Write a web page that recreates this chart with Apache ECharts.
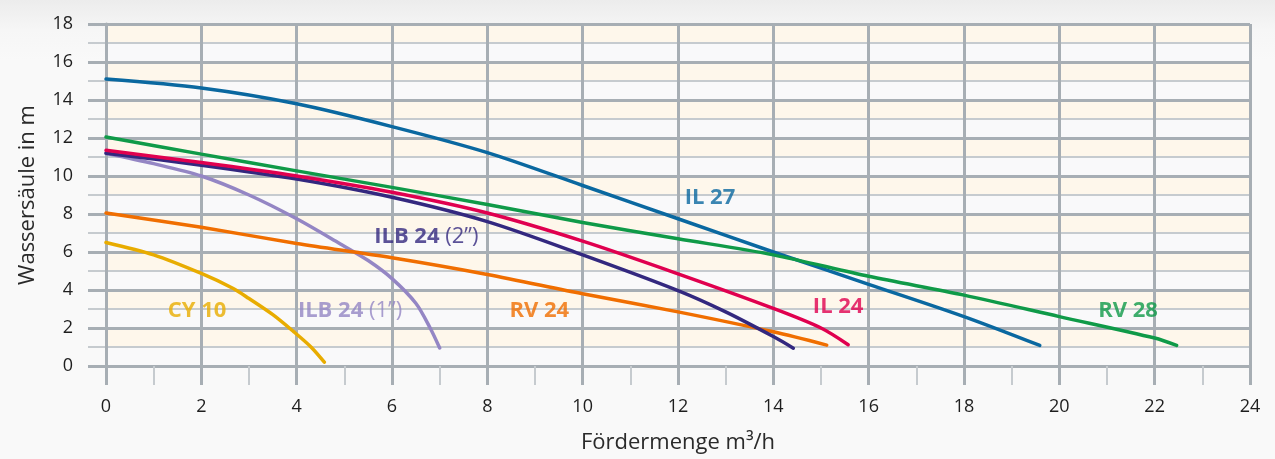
<!DOCTYPE html>
<html>
<head>
<meta charset="utf-8">
<script src="https://cdn.jsdelivr.net/npm/echarts@6/dist/echarts.min.js"></script>
<style>
html,body{margin:0;padding:0;}
body{background:linear-gradient(#ececec 0px,#f6f6f6 30px,#f9f9f9 60px,#f9f9f9 100%);}
#chart{width:1275px;height:459px;}
</style>
</head>
<body>
<div id="chart"></div>
<script>
// Pump curves: [Fördermenge m³/h, Wassersäule m]
const seriesNames = ['CY 10', 'ILB 24 (1″)', 'RV 24', 'ILB 24 (2″)', 'IL 24', 'IL 27', 'RV 28'];
const cy10 = [[0,6.5],[1,5.85],[2,4.87],[2.67,4.08],[3,3.55],[3.5,2.7],[3.93,1.82],[4.3,1.0],[4.58,0.2]];
const ilb24_1 = [[0,11.2],[1,10.65],[2,10.0],[3,9.0],[4,7.75],[4.9,6.45],[5.5,5.55],[6,4.6],[6.5,3.3],[6.8,2.0],[7,0.95]];
const rv24 = [[0,8.05],[2,7.3],[4,6.45],[6,5.7],[8,4.82],[10,3.8],[12,2.85],[14,1.8],[15.12,1.1]];
const ilb24_2 = [[0,11.2],[2,10.57],[4,9.84],[6,8.88],[8,7.6],[10,5.85],[12,3.97],[13,2.85],[14,1.55],[14.42,0.94]];
const il24 = [[0,11.35],[2,10.71],[4,10.0],[6,9.14],[8,8.05],[10,6.57],[12,4.85],[14,3.03],[15,2.0],[15.57,1.12]];
const il27 = [[0,15.1],[2,14.63],[4,13.8],[6,12.6],[8,11.23],[10,9.5],[12,7.75],[14,6.0],[16,4.3],[18,2.6],[19.59,1.08]];
const rv28 = [[0,12.05],[2,11.15],[4,10.27],[6,9.4],[8,8.5],[10,7.55],[12,6.7],[14,5.85],[16,4.72],[18,3.73],[20,2.6],[22,1.47],[22.46,1.08]];
const seriesColors = ['#e8ac00', '#9486c4', '#f06e00', '#33287f', '#e0004f', '#0a68a0', '#0f9a48'];
// Curve labels: [x, y, bold part, normal part]
const curveLabels = [
  [1.91, 2.93, 'CY 10', ''],
  [5.12, 2.93, 'ILB 24 ', '(1”)'],
  [9.09, 2.93, 'RV 24', ''],
  [6.72, 6.79, 'ILB 24 ', '(2”)'],
  [15.36, 3.12, 'IL 24', ''],
  [12.67, 8.88, 'IL 27', ''],
  [21.44, 2.93, 'RV 28', '']
];
const xMin = 0, xMax = 24, xStep = 2;
const yMin = 0, yMax = 18, yStep = 2;
const xAxisTitle = 'Fördermenge m³/h';
const yAxisTitle = 'Wassersäule in m';

const FONT = '"Open Sans", "Noto Sans", sans-serif';
const MAJOR = '#a7aeb4';
const MINOR = '#c6cbcf';
const curves = [cy10, ilb24_1, rv24, ilb24_2, il24, il27, rv28];

const lineSeries = curves.map((d, i) => ({
  name: seriesNames[i],
  type: 'line',
  data: d,
  smooth: 0.3,
  showSymbol: false,
  symbol: 'none',
  lineStyle: { color: seriesColors[i], width: 3.5, cap: 'round' },
  z: 5
}));

const labelSeries = curveLabels.map((l, i) => ({
  type: 'scatter',
  symbolSize: 0,
  silent: true,
  z: 6,
  data: [[l[0], l[1]]],
  label: {
    show: true,
    position: 'inside',
    formatter: () => '{b|' + l[2] + '}' + (l[3] ? '{n|' + l[3] + '}' : ''),
    rich: {
      b: { fontFamily: FONT, fontWeight: 'bold', fontSize: 22, color: seriesColors[i] },
      n: { fontFamily: FONT, fontWeight: 'normal', fontSize: 22, color: seriesColors[i] }
    }
  }
}));

const chart = echarts.init(document.getElementById('chart'), null, { renderer: 'canvas' });
chart.setOption({
  backgroundColor: 'transparent',
  animation: false,
  grid: { left: 106, right: 25, top: 24, bottom: 91 },
  xAxis: {
    type: 'value', min: xMin, max: xMax, interval: xStep, z: 2,
    name: xAxisTitle, nameLocation: 'middle', nameGap: 66,
    nameTextStyle: { fontFamily: FONT, fontSize: 22, color: '#2a2a2a' },
    axisLine: { show: true, onZero: false, lineStyle: { color: MAJOR, width: 3 } },
    axisTick: { show: true, length: 19, lineStyle: { color: MAJOR, width: 3 } },
    minorTick: { show: true, splitNumber: 2, length: 19, lineStyle: { color: MINOR, width: 2 } },
    axisLabel: { fontFamily: FONT, fontSize: 18, color: '#1e1e1e', margin: 32 },
    splitLine: { show: true, lineStyle: { color: MAJOR, width: 3 } }
  },
  yAxis: [
    {
      type: 'value', min: yMin, max: yMax, interval: 1, z: 0,
      name: yAxisTitle, nameLocation: 'middle', nameGap: 67,
      nameTextStyle: { fontFamily: FONT, fontSize: 22, color: '#2a2a2a' },
      axisLine: { show: false },
      axisTick: { show: true, length: 18, lineStyle: { color: MINOR, width: 2 } },
      axisLabel: {
        fontFamily: FONT, fontSize: 18, color: '#1e1e1e', margin: 33,
        formatter: v => (v % yStep === 0 ? String(v) : '')
      },
      splitLine: { show: true, lineStyle: { color: MINOR, width: 2 } },
      splitArea: { show: true, areaStyle: { color: ['#f9f9fa', '#fef7eb'] } }
    },
    {
      type: 'value', min: yMin, max: yMax, interval: yStep, z: 2, position: 'left',
      axisLine: { show: true, onZero: false, lineStyle: { color: MAJOR, width: 3 } },
      axisTick: { show: true, length: 18, lineStyle: { color: MAJOR, width: 3 } },
      axisLabel: { show: false },
      splitLine: { show: true, lineStyle: { color: MAJOR, width: 3 } },
      splitArea: { show: false }
    }
  ],
  series: lineSeries.concat(labelSeries)
});
</script>
</body>
</html>
